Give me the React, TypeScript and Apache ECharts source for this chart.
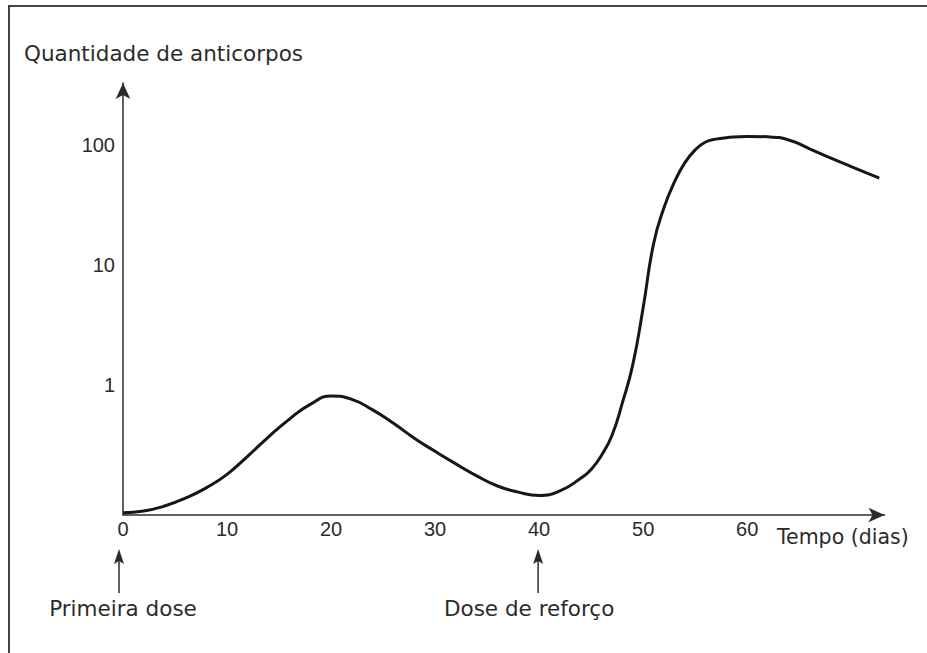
import React, { useEffect, useRef } from "react";
import * as echarts from "echarts";

const days = [0, 2, 4, 6, 8, 10, 12, 14, 16, 18, 20, 22, 24, 26, 28, 30, 32, 34, 36, 38, 40, 42, 44, 45, 46, 47, 48, 49, 50, 51, 52, 53, 54, 55, 56, 57, 58, 60, 62, 64, 66, 68, 70, 72, 72.7];
const antibodies = [0.086, 0.089, 0.098, 0.114, 0.139, 0.18, 0.256, 0.37, 0.52, 0.69, 0.81, 0.76, 0.62, 0.48, 0.36, 0.28, 0.22, 0.175, 0.144, 0.128, 0.12, 0.131, 0.167, 0.198, 0.26, 0.38, 0.71, 1.47, 4.4, 15, 30, 49, 71, 91, 106, 112, 115, 118, 117, 110, 93, 78, 66, 56, 53];
const xTickLabels = [0, 10, 20, 30, 40, 50, 60];
const yTickLabels = [1, 10, 100];
const doseDays = [0, 40];
const doseLabels = ["Primeira dose", "Dose de reforço"];
const yTitle = "Quantidade de anticorpos";
const xTitle = "Tempo (dias)";

const TEXT_FONT = "DejaVu Sans";
const NUM_FONT = "Liberation Sans";
const INK = "#2b2b2b";

export default function App() {
  const ref = useRef<HTMLDivElement>(null);
  useEffect(() => {
    if (!ref.current) return;
    const chart = echarts.init(ref.current, null, { renderer: "svg" });
    const option: any = {
      animation: false,
      backgroundColor: "#ffffff",
      grid: { left: 123, right: 42.5, top: 83, bottom: 138, containLabel: false },
      xAxis: {
        type: "value",
        min: 0,
        max: 73.2,
        axisLine: {
          show: true,
          onZero: false,
          symbol: ["none", "arrow"],
          symbolSize: [11, 16],
          lineStyle: { color: INK, width: 1.5 },
        },
        axisTick: { show: false },
        splitLine: { show: false },
        axisLabel: {
          customValues: xTickLabels,
          margin: 4,
          fontFamily: NUM_FONT,
          fontSize: 20,
          color: INK,
        },
      },
      yAxis: {
        type: "value",
        min: -1.0833,
        max: 2.5167,
        axisLine: {
          show: true,
          onZero: false,
          symbol: ["none", "arrow"],
          symbolSize: [11, 16],
          lineStyle: { color: INK, width: 1.5 },
        },
        axisTick: { show: false },
        splitLine: { show: false },
        axisLabel: {
          customValues: yTickLabels.map((v) => Math.log10(v)),
          formatter: (v: number) => String(Math.round(Math.pow(10, v))),
          margin: 8,
          fontFamily: NUM_FONT,
          fontSize: 20,
          color: INK,
        },
      },
      series: [
        {
          type: "line",
          data: days.map((d, i) => [d, Math.log10(antibodies[i])]),
          smooth: 0.5,
          showSymbol: false,
          symbol: "none",
          lineStyle: { color: "#161616", width: 3 },
        },
      ],
    };
    chart.setOption(option);

    const graphics: any[] = [
      {
        type: "rect",
        shape: { x: 9, y: 6, width: 940, height: 700 },
        style: { fill: "none", stroke: "#444", lineWidth: 2 },
        silent: true,
      },
      {
        type: "text",
        x: 24,
        y: 53,
        style: { text: yTitle, fontFamily: TEXT_FONT, fontSize: 21.5, fill: INK, verticalAlign: "middle", align: "left" },
      },
      {
        type: "text",
        x: 777,
        y: 537,
        style: { text: xTitle, fontFamily: TEXT_FONT, fontSize: 20.5, fill: INK, verticalAlign: "middle", align: "left" },
      },
    ];
    const labelOffsets = [0, -10];
    const arrowOffsets = [-4, -1];
    doseDays.forEach((d, i) => {
      const px = chart.convertToPixel({ gridIndex: 0 }, [d, 0])[0] as number;
      const ax = px + arrowOffsets[i];
      graphics.push({
        type: "line",
        shape: { x1: ax, y1: 593, x2: ax, y2: 560 },
        style: { stroke: INK, lineWidth: 1.5 },
      });
      graphics.push({
        type: "polygon",
        shape: { points: [[ax, 549], [ax - 5, 564], [ax, 561], [ax + 5, 564]] },
        style: { fill: INK },
      });
      graphics.push({
        type: "text",
        x: px + labelOffsets[i],
        y: 608,
        style: { text: doseLabels[i], fontFamily: TEXT_FONT, fontSize: 21.5, fill: INK, verticalAlign: "middle", align: "center" },
      });
    });
    chart.setOption({ graphic: graphics });

    return () => chart.dispose();
  }, []);
  return <div ref={ref} style={{ position: "fixed", left: 0, top: 0, width: 927, height: 653 }} />;
}
